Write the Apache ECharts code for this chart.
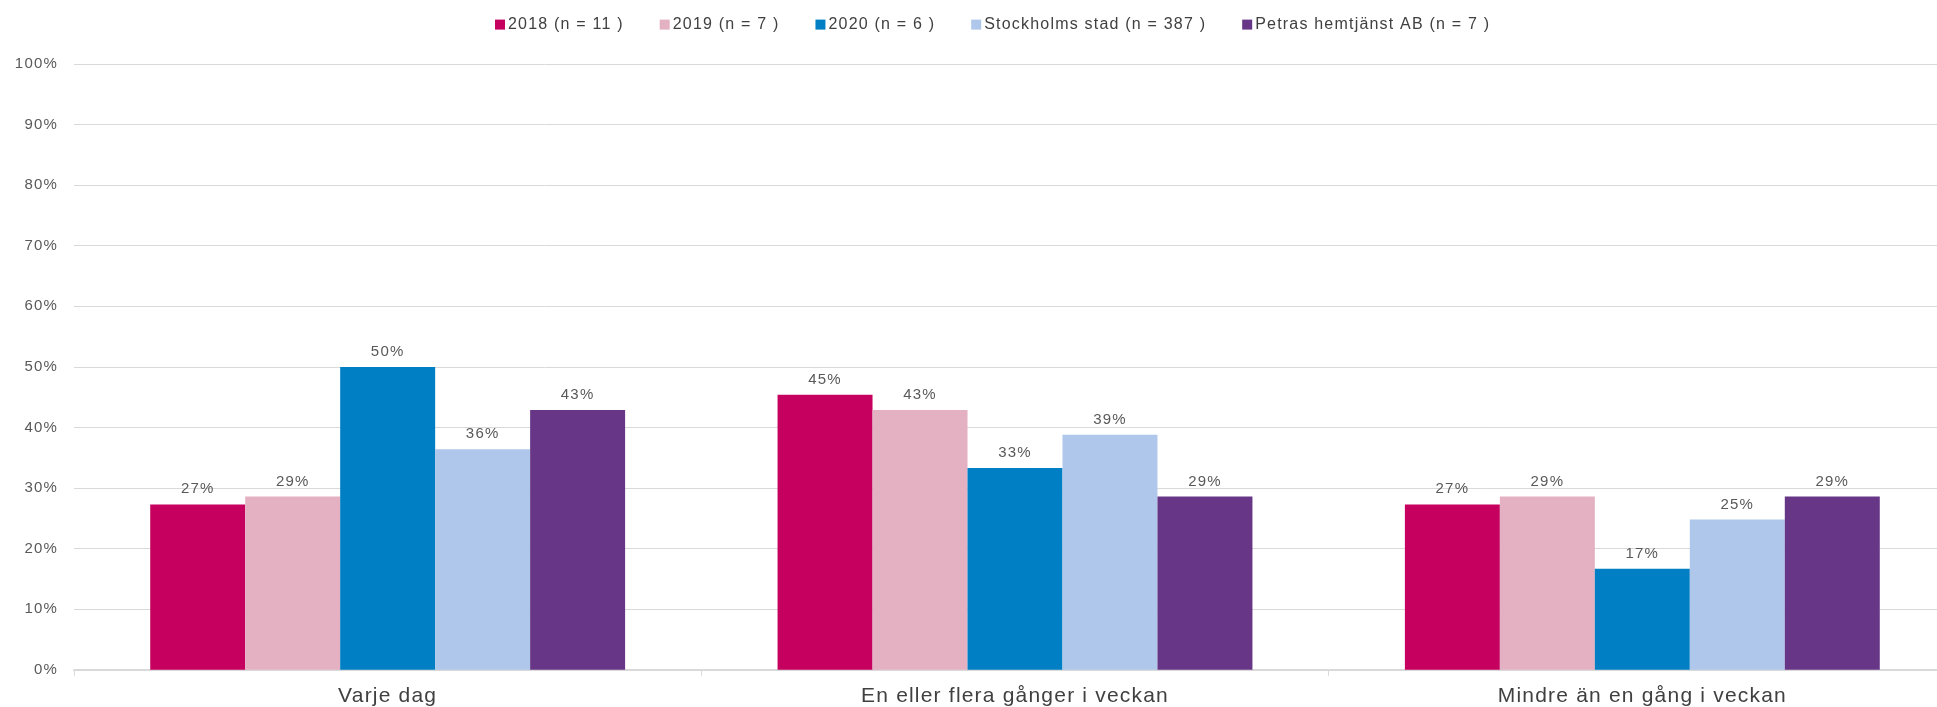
<!DOCTYPE html>
<html>
<head>
<meta charset="utf-8">
<script src="https://cdn.jsdelivr.net/npm/echarts@6/dist/echarts.min.js"></script>
<style>
html,body{margin:0;padding:0;background:#fff;overflow:hidden;}
#chart{width:1956px;height:707px;}
</style>
</head>
<body>
<div id="chart"></div>
<script>
var categories = ['Varje dag', 'En eller flera gånger i veckan', 'Mindre än en gång i veckan'];
var seriesNames = ['2018 (n = 11 )', '2019 (n = 7 )', '2020 (n = 6 )', 'Stockholms stad (n = 387 )', 'Petras hemtjänst AB (n = 7 )'];
var v2018 = [27.3, 45.4, 27.3];
var v2019 = [28.6, 42.9, 28.6];
var v2020 = [50.0, 33.3, 16.7];
var vStockholm = [36.4, 38.8, 24.8];
var vPetras = [42.9, 28.6, 28.6];
var colors = ['#C5005F', '#E3B1C1', '#007FC5', '#AEC7EA', '#673686'];

var values = [v2018, v2019, v2020, vStockholm, vPetras];
var font = 'Liberation Sans, Arial, sans-serif';

// the original text is set with a little letter spacing
var proto = CanvasRenderingContext2D.prototype;
var oFill = proto.fillText, oMeasure = proto.measureText;
proto.fillText = function(){ this.letterSpacing = '1.2px'; return oFill.apply(this, arguments); };
proto.measureText = function(){ this.letterSpacing = '1.2px'; return oMeasure.apply(this, arguments); };

var series = [];
for (var i = 0; i < seriesNames.length; i++) {
	series.push({
		name: seriesNames[i],
		type: 'bar',
		data: values[i],
		barGap: '0%',
		barCategoryGap: '24.3%',
		itemStyle: {color: colors[i]},
		label: {
			show: true,
			position: 'top',
			distance: 7,
			color: '#595959',
			fontSize: 15,
			fontFamily: font,
			formatter: function(p){ return Math.round(p.value) + '%'; }
		}
	});
}

var myChart = echarts.init(document.getElementById('chart'));
myChart.setOption({
	animation: false,
	color: colors,
	legend: {
		top: 11,
		left: 490,
		itemWidth: 10,
		itemHeight: 10,
		itemGap: 36,
		icon: 'rect',
		textStyle: {color: '#404040', fontSize: 16, fontFamily: font, padding: [0, 0, 0, -2]},
		data: seriesNames
	},
	grid: {left: 74, right: 0, top: 64, bottom: 37},
	xAxis: {
		type: 'category',
		data: categories,
		axisLine: {lineStyle: {color: '#d9d9d9', width: 2}},
		axisTick: {show: true, length: 6, lineStyle: {color: '#d9d9d9'}},
		axisLabel: {color: '#404040', fontSize: 21, fontFamily: font, margin: 15}
	},
	yAxis: {
		type: 'value',
		min: 0,
		max: 100,
		interval: 10,
		axisLine: {show: false},
		axisTick: {show: false},
		splitLine: {lineStyle: {color: '#d9d9d9', width: 1}},
		axisLabel: {color: '#595959', fontSize: 15, fontFamily: font, margin: 16, formatter: '{value}%'}
	},
	series: series
});
</script>
</body>
</html>
